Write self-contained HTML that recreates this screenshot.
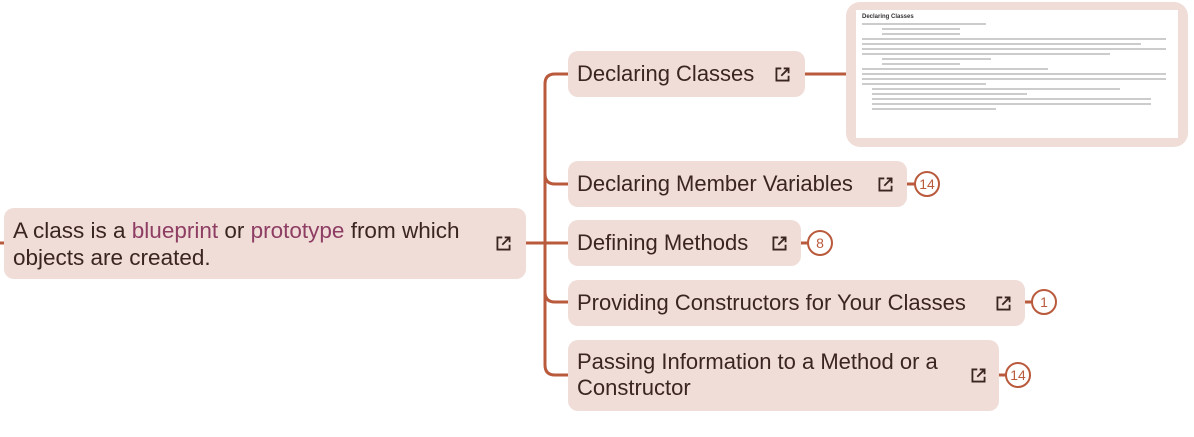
<!DOCTYPE html>
<html><head><meta charset="utf-8"><style>
body{margin:0;width:1194px;height:437px;background:#fff;position:relative;overflow:hidden;font-family:"Liberation Sans",sans-serif;color:#3b2521}
.b{position:absolute;background:#f0ddd8;border-radius:10px;box-sizing:border-box;font-size:22px;line-height:26px}
.t{position:absolute;left:9px;white-space:nowrap}
.ic{position:absolute;width:17px;height:17px}
.bd{position:absolute;width:22px;height:22px;border:2px solid #b95a3c;border-radius:50%;background:#fff;font-size:14px;line-height:22px;text-align:center;color:#b95a3c}
.p{position:absolute;left:846px;top:2px;width:342px;height:145px;background:#f0ddd8;border-radius:14px}
.pi{position:absolute;left:10px;top:8px;width:322px;height:128px;background:#fff;font-size:4.5px;line-height:6px;color:#666;padding:4px 6px;box-sizing:border-box;overflow:hidden}
.pi div{height:2px;background:#ccc;margin:3px 0}
</style></head><body>
<svg width="1194" height="437" style="position:absolute;left:0;top:0">
<g fill="none" stroke="#b95a3c" stroke-width="3">
<path d="M526 243H545"/>
<path d="M545 243V84Q545 74 555 74H568"/>
<path d="M545 243V174Q545 184 555 184H568"/>
<path d="M545 243H568"/>
<path d="M545 243V292Q545 302 555 302H568"/>
<path d="M545 243V365Q545 375 555 375H568"/>
<path d="M805 74H846"/>
<path d="M907 184H916"/><path d="M801 243H809"/><path d="M1025 302H1033"/><path d="M999 375H1007"/>
<path d="M0 243H4"/>
</g></svg>
<div class="p"><div class="pi"><b style="font-size:6px;color:#333">Declaring Classes</b>
<div style="width:40%"></div><div style="width:25%;margin-left:20px"></div><div style="width:25%;margin-left:20px"></div><div style="width:98%"></div><div style="width:90%"></div><div style="width:98%"></div><div style="width:80%"></div><div style="width:35%;margin-left:20px"></div><div style="width:25%;margin-left:20px"></div><div style="width:60%"></div><div style="width:98%"></div><div style="width:98%"></div><div style="width:40%"></div><div style="width:80%;margin-left:10px"></div><div style="width:50%;margin-left:10px"></div><div style="width:90%;margin-left:10px"></div><div style="width:90%;margin-left:10px"></div><div style="width:40%;margin-left:10px"></div></div></div>

<div class="b" style="left:4px;top:208px;width:522px;height:71px"><div class="t" style="top:9px;font-size:22.5px;line-height:27px">A class is a <span style="color:#8e3d63">blueprint</span> or <span style="color:#8e3d63">prototype</span> from which<br>objects are created.</div>
<svg class="ic" style="left:491px;top:27px" viewBox="0 0 14 14" fill="none" stroke="#3b2521" stroke-width="1.5"><path d="M6 2H2V12H12V8M8 2H12V6M12 2L6 8"/></svg></div>

<div class="b" style="left:568px;top:51px;width:237px;height:46px"><div class="t" style="top:10px">Declaring Classes</div>
<svg class="ic" style="left:206px;top:15px" viewBox="0 0 14 14" fill="none" stroke="#3b2521" stroke-width="1.5"><path d="M6 2H2V12H12V8M8 2H12V6M12 2L6 8"/></svg></div>

<div class="b" style="left:568px;top:161px;width:339px;height:46px"><div class="t" style="top:10px">Declaring Member Variables</div>
<svg class="ic" style="left:309px;top:15px" viewBox="0 0 14 14" fill="none" stroke="#3b2521" stroke-width="1.5"><path d="M6 2H2V12H12V8M8 2H12V6M12 2L6 8"/></svg></div>
<div class="bd" style="left:914px;top:171px">14</div>

<div class="b" style="left:568px;top:220px;width:233px;height:46px"><div class="t" style="top:10px">Defining Methods</div>
<svg class="ic" style="left:203px;top:15px" viewBox="0 0 14 14" fill="none" stroke="#3b2521" stroke-width="1.5"><path d="M6 2H2V12H12V8M8 2H12V6M12 2L6 8"/></svg></div>
<div class="bd" style="left:807px;top:230px">8</div>

<div class="b" style="left:568px;top:280px;width:457px;height:46px"><div class="t" style="top:10px">Providing Constructors for Your Classes</div>
<svg class="ic" style="left:427px;top:15px" viewBox="0 0 14 14" fill="none" stroke="#3b2521" stroke-width="1.5"><path d="M6 2H2V12H12V8M8 2H12V6M12 2L6 8"/></svg></div>
<div class="bd" style="left:1031px;top:289px">1</div>

<div class="b" style="left:568px;top:340px;width:431px;height:71px"><div class="t" style="top:9px">Passing Information to a Method or a<br>Constructor</div>
<svg class="ic" style="left:402px;top:27px" viewBox="0 0 14 14" fill="none" stroke="#3b2521" stroke-width="1.5"><path d="M6 2H2V12H12V8M8 2H12V6M12 2L6 8"/></svg></div>
<div class="bd" style="left:1005px;top:362px">14</div>
</body></html>
